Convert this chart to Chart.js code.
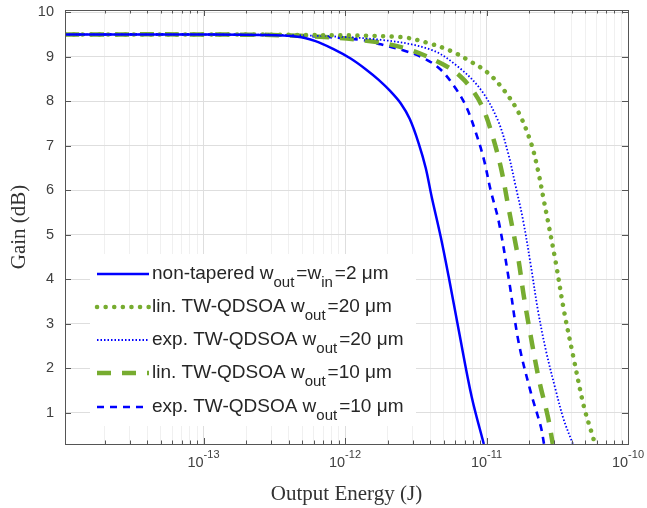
<!DOCTYPE html>
<html><head><meta charset="utf-8">
<script src="https://cdn.jsdelivr.net/npm/chart.js@4.4.1/dist/chart.umd.min.js"></script>
<style>html,body{margin:0;padding:0;background:#fff}canvas{display:block}</style>
</head><body>
<canvas id="c" width="647" height="508"></canvas>
<script>
// ---- axis ranges & ticks ----
const X_MIN = 1.05e-14, X_MAX = 1e-10, Y_MIN = 0.3, Y_MAX = 10.05;
const xTickValues = [1e-13, 1e-12, 1e-11, 1e-10];
const xTickBase = ['10', '10', '10', '10'];
const xTickExp = ['-13', '-12', '-11', '-10'];
const yTickValues = [1, 2, 3, 4, 5, 6, 7, 8, 9, 10];
const xTitle = 'Output Energy (J)';
const yTitle = 'Gain (dB)';

// ---- series (Output energy in J, gain in dB) ----
const nonTaperedE = [1.05e-14, 1e-13, 2.53e-13, 4.62e-13, 6.19e-13, 8.30e-13, 1.096e-12, 1.40e-12, 1.73e-12, 2.10e-12, 2.48e-12, 2.87e-12, 3.32e-12, 3.72e-12, 4.10e-12, 4.75e-12, 5.41e-12, 6.37e-12, 7.87e-12, 9.57e-12];
const nonTaperedG = [9.5, 9.5, 9.49, 9.45, 9.35, 9.17, 8.96, 8.72, 8.48, 8.22, 7.95, 7.6, 7.05, 6.5, 5.85, 4.95, 4.05, 2.85, 1.35, 0.3];

const lin20E = [1.05e-14, 1e-13, 4.85e-13, 2.49e-12, 3.85e-12, 5.59e-12, 7.74e-12, 1.02e-11, 1.32e-11, 1.69e-11, 2.06e-11, 2.31e-11, 2.55e-11, 2.72e-11, 3.09e-11, 3.52e-11, 4.15e-11, 4.89e-11, 5.65e-11, 5.83e-11];
const lin20G = [9.5, 9.5, 9.49, 9.44, 9.31, 9.13, 8.89, 8.64, 8.26, 7.74, 7.07, 6.45, 5.75, 5.3, 4.37, 3.31, 2.19, 1.13, 0.46, 0.3];

const exp20E = [1.05e-14, 1e-13, 4.85e-13, 1.79e-12, 4.04e-12, 6.27e-12, 9.12e-12, 1.20e-11, 1.42e-11, 1.61e-11, 1.81e-11, 2.06e-11, 2.31e-11, 2.63e-11, 3.09e-11, 3.52e-11, 4.08e-11];
const exp20G = [9.5, 9.5, 9.48, 9.38, 9.16, 8.78, 8.26, 7.58, 6.84, 6.08, 5.34, 4.3, 3.3, 2.4, 1.5, 0.84, 0.3];

const lin10E = [1.05e-14, 1e-13, 4.85e-13, 1.52e-12, 2.91e-12, 4.99e-12, 6.58e-12, 8.13e-12, 9.42e-12, 1.07e-11, 1.26e-11, 1.44e-11, 1.67e-11, 1.84e-11, 2.06e-11, 2.35e-11, 2.72e-11, 2.94e-11];
const lin10G = [9.5, 9.5, 9.47, 9.35, 9.15, 8.82, 8.55, 8.21, 7.85, 7.36, 6.53, 5.56, 4.5, 3.6, 2.7, 1.74, 0.9, 0.3];

const exp10E = [1.05e-14, 1e-13, 4.85e-13, 1.29e-12, 1.79e-12, 2.60e-12, 3.54e-12, 4.67e-12, 5.87e-12, 7.14e-12, 8.40e-12, 9.57e-12, 1.07e-11, 1.22e-11, 1.44e-11, 1.69e-11, 2.06e-11, 2.42e-11, 2.55e-11];
const exp10G = [9.5, 9.5, 9.47, 9.38, 9.28, 9.14, 8.98, 8.73, 8.35, 7.9, 7.3, 6.7, 6.0, 5.3, 3.99, 2.57, 1.45, 0.69, 0.3];

// legend text pieces: [text, isSubscript]
const legendParts = [
  [['non-tapered w', 0], ['out', 1], ['=w', 0], ['in', 1], ['=2 \u03BCm', 0]],
  [['lin. TW-QDSOA w', 0], ['out', 1], ['=20 \u03BCm', 0]],
  [['exp. TW-QDSOA w', 0], ['out', 1], ['=20 \u03BCm', 0]],
  [['lin. TW-QDSOA w', 0], ['out', 1], ['=10 \u03BCm', 0]],
  [['exp. TW-QDSOA w', 0], ['out', 1], ['=10 \u03BCm', 0]]
];

const BLUE = '#0000ff', GREEN = '#77ac30';
const SANS = '"Liberation Sans", Arial, sans-serif';
const SERIF = '"Liberation Serif", "Times New Roman", serif';
const toPts = (E, G) => E.map((x, i) => ({x: x, y: G[i]}));

const datasets = [
  {data: toPts(nonTaperedE, nonTaperedG), borderColor: BLUE, borderWidth: 2.5, borderDash: [], borderCapStyle: 'butt'},
  {data: toPts(lin20E, lin20G), borderColor: GREEN, borderWidth: 4.5, borderDash: [0.1, 8.5], borderCapStyle: 'round'},
  {data: toPts(exp20E, exp20G), borderColor: BLUE, borderWidth: 1.8, borderDash: [1.5, 2], borderCapStyle: 'butt'},
  {data: toPts(lin10E, lin10G), borderColor: GREEN, borderWidth: 4.5, borderDash: [14, 11], borderCapStyle: 'butt'},
  {data: toPts(exp10E, exp10G), borderColor: BLUE, borderWidth: 2.6, borderDash: [7, 6], borderCapStyle: 'butt'}
].map(d => Object.assign(d, {pointRadius: 0, fill: false, tension: 0.35}));

const isDecade = v => Math.abs(Math.log10(v) - Math.round(Math.log10(v))) < 1e-6;
function xGridValues() {
  const out = [];
  for (let e = -14; e <= -10; e++) for (let m = 1; m <= 9; m++) {
    const v = m * Math.pow(10, e);
    if (v >= X_MIN * 0.999 && v <= X_MAX * 1.0001) out.push(v);
  }
  return out;
}

const framePlugin = {
  id: 'frame',
  afterDraw(chart) {
    const ctx = chart.ctx, a = chart.chartArea, xs = chart.scales.x, ys = chart.scales.y;
    ctx.save();
    // legend box
    const L = {x0: 90, y0: 254, w: 326, h: 172, lx1: 97, lx2: 149, tx: 152, rows: [274, 307, 340, 373, 407]};
    ctx.fillStyle = '#ffffff';
    ctx.fillRect(L.x0, L.y0, L.w, L.h);
    chart.data.datasets.forEach((ds, i) => {
      const y = L.rows[i];
      ctx.beginPath();
      ctx.strokeStyle = ds.borderColor; ctx.lineWidth = ds.borderWidth;
      ctx.setLineDash(ds.borderDash); ctx.lineCap = ds.borderCapStyle;
      ctx.moveTo(L.lx1, y); ctx.lineTo(L.lx2, y); ctx.stroke();
      ctx.setLineDash([]); ctx.lineCap = 'butt';
      let x = L.tx;
      ctx.fillStyle = '#262626'; ctx.textBaseline = 'middle'; ctx.textAlign = 'left';
      legendParts[i].forEach(([t, sub]) => {
        ctx.font = sub ? '15px ' + SANS : '19px ' + SANS;
        ctx.fillText(t, x, sub ? y + 9 : y);
        x += ctx.measureText(t).width + (sub ? 2 : 0);
      });
    });
    // x tick labels (10 with superscript exponent)
    ctx.fillStyle = '#404040'; ctx.textBaseline = 'middle'; ctx.textAlign = 'left';
    xTickValues.forEach((v, i) => {
      const px = xs.getPixelForValue(v);
      ctx.font = '14.5px ' + SANS;
      const wb = ctx.measureText(xTickBase[i]).width;
      ctx.font = '11px ' + SANS;
      const we = ctx.measureText(xTickExp[i]).width;
      const x0 = px - (wb + we) / 2;
      ctx.font = '14.5px ' + SANS;
      ctx.fillText(xTickBase[i], x0, 463);
      ctx.font = '11px ' + SANS;
      ctx.fillText(xTickExp[i], x0 + wb, 455);
    });
    // box
    ctx.strokeStyle = '#555555'; ctx.lineWidth = 1;
    ctx.strokeRect(Math.round(a.left) + 0.5, Math.round(a.top) + 0.5, Math.round(a.right - a.left), Math.round(a.bottom - a.top));
    // inward ticks
    ctx.beginPath();
    xGridValues().forEach(v => {
      const px = Math.round(xs.getPixelForValue(v)) + 0.5;
      const len = isDecade(v) ? 6 : 3.5;
      ctx.moveTo(px, a.bottom); ctx.lineTo(px, a.bottom - len);
      ctx.moveTo(px, a.top); ctx.lineTo(px, a.top + len);
    });
    yTickValues.forEach(v => {
      const py = Math.round(ys.getPixelForValue(v)) + 0.5;
      ctx.moveTo(a.left, py); ctx.lineTo(a.left + 6, py);
      ctx.moveTo(a.right, py); ctx.lineTo(a.right - 6, py);
    });
    ctx.stroke();
    ctx.restore();
  }
};

new Chart(document.getElementById('c'), {
  type: 'line',
  data: {datasets: datasets},
  options: {
    responsive: false, animation: false, devicePixelRatio: 1,
    layout: {padding: {top: 10, right: 19, left: 0, bottom: 0}},
    plugins: {legend: {display: false}, tooltip: {enabled: false}},
    scales: {
      x: {
        type: 'logarithmic', min: X_MIN, max: X_MAX,
        afterBuildTicks: s => { s.ticks = xGridValues().map(v => ({value: v})); },
        afterFit: s => { s.height = 64; s.paddingLeft = 0; s.paddingRight = 0; },
        border: {display: false},
        grid: {drawTicks: false, color: c => (c.tick && isDecade(c.tick.value)) ? '#dedede' : '#f0f0f0', lineWidth: 1},
        ticks: {display: false},
        title: {display: true, text: xTitle, color: '#333333', padding: {top: 0, bottom: 1},
          font: {family: SERIF, size: 21}}
      },
      y: {
        type: 'linear', min: Y_MIN, max: Y_MAX,
        afterBuildTicks: s => { s.ticks = yTickValues.map(v => ({value: v})); },
        afterFit: s => { s.width = 65; s.paddingTop = 0; s.paddingBottom = 0; },
        border: {display: false},
        grid: {drawTicks: false, color: '#dedede', lineWidth: 1},
        ticks: {padding: 11, color: '#404040', font: {family: SANS, size: 14.5}},
        title: {display: true, text: yTitle, color: '#333333', padding: {top: 7, bottom: 0},
          font: {family: SERIF, size: 21}}
      }
    }
  },
  plugins: [framePlugin]
});
</script>
</body></html>
